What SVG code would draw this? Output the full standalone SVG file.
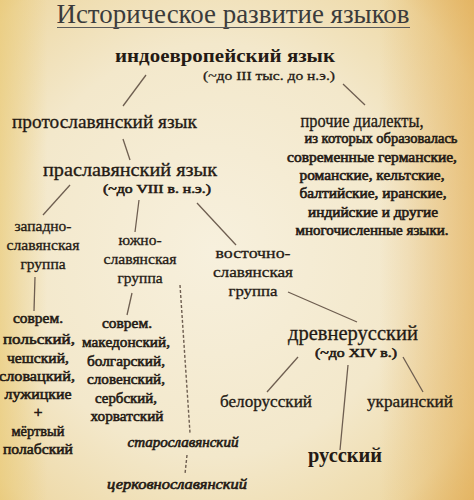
<svg xmlns="http://www.w3.org/2000/svg" width="474" height="500" viewBox="0 0 474 500">
<defs>
<radialGradient id="paper" cx="0.45" cy="0.5" r="0.75">
<stop offset="0" stop-color="#f7f0dd"/>
<stop offset="0.55" stop-color="#f3e8cb"/>
<stop offset="0.85" stop-color="#eed9a6"/>
<stop offset="1" stop-color="#e6c27a"/>
</radialGradient>
<linearGradient id="edgeR" x1="0" y1="0" x2="1" y2="0">
<stop offset="0.8" stop-color="#e2a94f" stop-opacity="0"/>
<stop offset="1" stop-color="#e2a94f" stop-opacity="0.55"/>
</linearGradient>
<linearGradient id="edgeL" x1="0" y1="0" x2="1" y2="0">
<stop offset="0" stop-color="#e9c870" stop-opacity="0.6"/>
<stop offset="0.1" stop-color="#e9c870" stop-opacity="0"/>
</linearGradient>
<style>
text{font-family:"Liberation Serif","DejaVu Serif",serif;fill:#241a14;stroke:#241a14;stroke-width:0.3}
.m{text-anchor:middle}
.b{font-weight:bold;stroke-width:0}
.sb{stroke-width:0.6}
.s{font-size:14px}
.n{font-size:15.5px}
.l{font-size:18px}
.i{font-style:italic;font-size:14px}
.c line{stroke:#6e5e50;stroke-width:1.3;fill:none}
.c .d{stroke-dasharray:3 2;stroke-width:1.4}
</style>
</defs>
<rect width="474" height="500" fill="url(#paper)"/>
<rect width="474" height="500" fill="url(#edgeR)"/>
<rect width="474" height="500" fill="url(#edgeL)"/>

<g id="title">
<text class="m" x="233" y="23" font-size="27" style="fill:#3b3b3b;stroke-width:0" textLength="353" lengthAdjust="spacingAndGlyphs">Историческое развитие языков</text>
<line x1="57" y1="27.5" x2="410" y2="27.5" stroke="#5a5a5a" stroke-width="1"/>
</g>

<g class="c" id="connectors">
<line x1="146" y1="75" x2="123" y2="106"/>
<line x1="343" y1="84" x2="365" y2="105"/>
<line x1="123" y1="139" x2="130" y2="160"/>
<line x1="70" y1="185" x2="43" y2="215"/>
<line x1="139" y1="200" x2="135" y2="232"/>
<line x1="197" y1="203" x2="236" y2="245"/>
<line x1="35" y1="277" x2="34" y2="311"/>
<line x1="132" y1="293" x2="127" y2="315"/>
<line x1="288" y1="292" x2="357" y2="322"/>
<line x1="298" y1="357" x2="267" y2="392"/>
<line x1="348" y1="365" x2="340" y2="450"/>
<line x1="403" y1="357" x2="423" y2="392"/>
<line class="d" x1="180" y1="285" x2="190" y2="433"/>
<line class="d" x1="187" y1="455" x2="185" y2="474"/>
</g>

<g id="n-indo">
<text class="m b" x="225" y="62" font-size="19" textLength="220" lengthAdjust="spacingAndGlyphs">индоевропейский язык</text>
<text class="m" x="269" y="80" font-size="13" textLength="132" lengthAdjust="spacingAndGlyphs">(~до III тыс. до н.э.)</text>
</g>

<g id="n-proto">
<text class="l" x="12" y="128" textLength="185" lengthAdjust="spacingAndGlyphs">протославянский язык</text>
</g>

<g id="n-other">
<text class="m l" x="362" y="127" textLength="123" lengthAdjust="spacingAndGlyphs">прочие диалекты,</text>
<text class="m s sb" x="381" y="143" textLength="153" lengthAdjust="spacingAndGlyphs">из которых образовалась</text>
<text class="m s sb" x="372" y="162" textLength="170" lengthAdjust="spacingAndGlyphs">современные германские,</text>
<text class="m s sb" x="372" y="180" textLength="145" lengthAdjust="spacingAndGlyphs">романские, кельтские,</text>
<text class="m s sb" x="373" y="198" textLength="147" lengthAdjust="spacingAndGlyphs">балтийские, иранские,</text>
<text class="m s sb" x="373" y="217" textLength="130" lengthAdjust="spacingAndGlyphs">индийские и другие</text>
<text class="m s sb" x="372" y="235" textLength="153" lengthAdjust="spacingAndGlyphs">многочисленные языки.</text>
</g>

<g id="n-praslav">
<text class="l" x="43" y="176" textLength="174" lengthAdjust="spacingAndGlyphs">праславянский язык</text>
<text class="sb" x="103" y="193" font-size="13" textLength="108" lengthAdjust="spacingAndGlyphs">(~до VIII в. н.э.)</text>
</g>

<g id="n-west">
<text class="m n" x="43" y="231">западно-</text>
<text class="m n" x="43" y="250" textLength="73" lengthAdjust="spacingAndGlyphs">славянская</text>
<text class="m n" x="43" y="269">группа</text>
</g>

<g id="n-south">
<text class="m n" x="140" y="245">южно-</text>
<text class="m n" x="140" y="264" textLength="73" lengthAdjust="spacingAndGlyphs">славянская</text>
<text class="m n" x="140" y="283">группа</text>
</g>

<g id="n-east">
<text class="m n" x="253" y="258" textLength="75" lengthAdjust="spacingAndGlyphs">восточно-</text>
<text class="m n" x="253" y="277" textLength="80" lengthAdjust="spacingAndGlyphs">славянская</text>
<text class="m n" x="253" y="296" textLength="49" lengthAdjust="spacingAndGlyphs">группа</text>
</g>

<g id="n-west-langs">
<text class="m n sb" x="38" y="323" textLength="50" lengthAdjust="spacingAndGlyphs">соврем.</text>
<text class="m n sb" x="39" y="344" textLength="72" lengthAdjust="spacingAndGlyphs">польский,</text>
<text class="m n sb" x="38" y="363" textLength="62" lengthAdjust="spacingAndGlyphs">чешский,</text>
<text class="m n sb" x="37" y="381" textLength="76" lengthAdjust="spacingAndGlyphs">словацкий,</text>
<text class="m n sb" x="38" y="399" textLength="67" lengthAdjust="spacingAndGlyphs">лужицкие</text>
<text class="m n sb" x="38" y="417">+</text>
<text class="m n sb" x="38" y="436" textLength="53" lengthAdjust="spacingAndGlyphs">мёртвый</text>
<text class="m n sb" x="38" y="454" textLength="70" lengthAdjust="spacingAndGlyphs">полабский</text>
</g>

<g id="n-south-langs">
<text class="m n sb" x="127" y="328" textLength="50" lengthAdjust="spacingAndGlyphs">соврем.</text>
<text class="m n sb" x="126" y="347" textLength="88" lengthAdjust="spacingAndGlyphs">македонский,</text>
<text class="m n sb" x="126" y="366" textLength="78" lengthAdjust="spacingAndGlyphs">болгарский,</text>
<text class="m n sb" x="126" y="384" textLength="78" lengthAdjust="spacingAndGlyphs">словенский,</text>
<text class="m n sb" x="126" y="403" textLength="62" lengthAdjust="spacingAndGlyphs">сербский,</text>
<text class="m n sb" x="127" y="421" textLength="73" lengthAdjust="spacingAndGlyphs">хорватский</text>
</g>

<g id="n-oldslav">
<text class="m i sb" x="183" y="447" textLength="111" lengthAdjust="spacingAndGlyphs">старославянский</text>
</g>

<g id="n-church">
<text class="m i sb" x="177" y="489" textLength="140" lengthAdjust="spacingAndGlyphs">церковнославянский</text>
</g>

<g id="n-oldrus">
<text class="m" x="353" y="340" font-size="21" textLength="130" lengthAdjust="spacingAndGlyphs">древнерусский</text>
<text class="m sb" x="356" y="357" font-size="13" textLength="82" lengthAdjust="spacingAndGlyphs">(~до XIV в.)</text>
</g>

<g id="n-bel">
<text class="m" x="266" y="407" font-size="16" textLength="92" lengthAdjust="spacingAndGlyphs">белорусский</text>
</g>

<g id="n-ukr">
<text class="m" x="410" y="407" font-size="16" textLength="86" lengthAdjust="spacingAndGlyphs">украинский</text>
</g>

<g id="n-rus">
<text class="m b" x="345" y="462" font-size="21" textLength="74" lengthAdjust="spacingAndGlyphs">русский</text>
</g>
</svg>
